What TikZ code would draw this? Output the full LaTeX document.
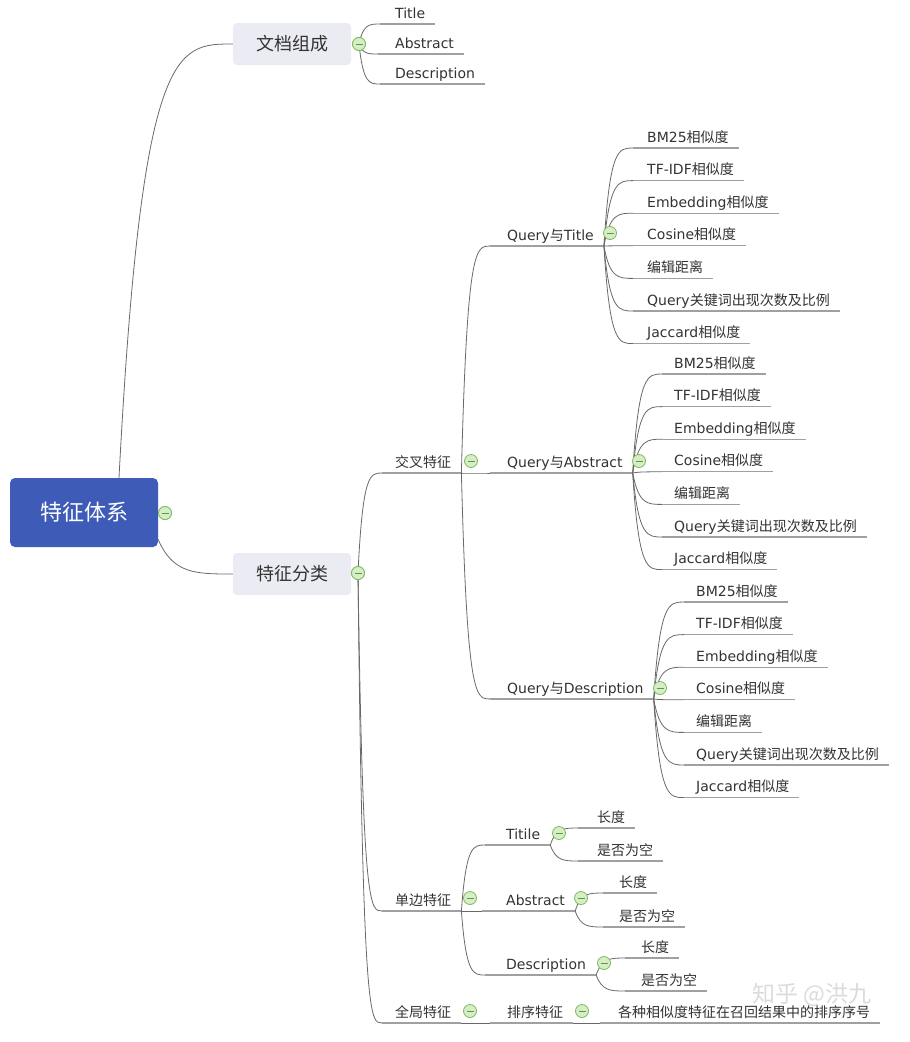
\documentclass[tikz,border=0pt]{standalone}
\usepackage{fontspec}
\setmainfont{DejaVu Sans}
\newfontfamily\cjk{Noto Sans CJK SC}
\usetikzlibrary{calc}
\definecolor{rootblue}{RGB}{62,91,183}
\definecolor{boxgray}{RGB}{235,235,243}
\definecolor{txt}{RGB}{51,51,51}
\definecolor{linec}{RGB}{105,105,105}
\definecolor{ulc}{RGB}{160,160,160}
\definecolor{foldg}{RGB}{125,185,95}
\definecolor{foldf}{RGB}{214,238,198}
\newcommand\xsd{{\cjk 相似度}}
% topic: name, underline start x, underline y, text x, text
\newcommand\topic[5]{%
  \node[lbl, anchor=base west] (#1) at (#4,#3-6) {#5};
  \coordinate (#1-l) at (#2,#3);
  \path (#1.east) ++(10pt,0) coordinate (#1-e);
  \coordinate (#1-r) at (#1-e |- #1-l);
  \draw[uline] (#1-l) -- (#1-r);
}
\newcommand\conn[2]{%
  \draw[link] let \p1=(#1), \p2=(#2) in (#1) .. controls ({\x1+0.2*(\x2-\x1)},\y2) and ({\x1+0.5*(\x2-\x1)},\y2) .. (#2);
}
% similarity set: prefix, parent, start x, text x, first y
\newcommand\simset[5]{%
  \topic{#1a}{#3}{#5}{#4}{BM25\xsd}
  \topic{#1b}{#3}{#5+32.6}{#4}{TF-IDF\xsd}
  \topic{#1c}{#3}{#5+65.2}{#4}{Embedding\xsd}
  \topic{#1d}{#3}{#5+97.8}{#4}{Cosine\xsd}
  \topic{#1e}{#3}{#5+130.4}{#4}{{\cjk 编辑距离}}
  \topic{#1f}{#3}{#5+163}{#4}{Query{\cjk 关键词出现次数及比例}}
  \topic{#1g}{#3}{#5+195.6}{#4}{Jaccard\xsd}
  \foreach \s in {a,b,c,d,e,f,g}{\conn{#2-r}{#1\s-l}}
}
\begin{document}
\begin{tikzpicture}[x=1pt,y=-1pt,
  lbl/.style={font=\fontsize{14}{16}\selectfont, text=txt, inner sep=0pt},
  uline/.style={draw=ulc, line width=1.3pt},
  link/.style={draw=linec, line width=0.8pt},
  fold/.style={circle, draw=foldg, fill=foldf, line width=0.8pt, minimum size=13pt, inner sep=0pt,
    path picture={\draw[foldg!80!black, line width=0.9pt] ([xshift=-3.5pt]path picture bounding box.center) -- ([xshift=3.5pt]path picture bounding box.center);}},
  rootbox/.style={rounded corners=5pt, fill=rootblue, text=white, font=\cjk\fontsize{22}{26}\selectfont, minimum width=148pt, minimum height=69pt, inner sep=0pt},
  mainbox/.style={rounded corners=4pt, fill=boxgray, text=txt, font=\cjk\fontsize{18}{22}\selectfont, minimum width=118pt, minimum height=42pt, inner sep=0pt},
  wm/.style={font=\cjk\fontsize{23}{27}\selectfont, text=gray!40, opacity=0.7}]
\useasboundingbox[fill=white] (0,0) rectangle (910,1042);

% main boxes
\node[rootbox] (root) at (84,512.5) {特征体系};
\node[mainbox] (doc) at (292,44) {文档组成};
\node[mainbox] (cls) at (292,574) {特征分类};
\coordinate (root-t) at ([xshift=35pt]root.north);
\coordinate (root-b) at ([yshift=-27pt]root.east);

% fold markers (positions)
\node[fold] (froot) at (165,513) {};
\node[fold] (fdoc) at (359,44) {};
\node[fold] (fcls) at (358,573) {};

% document composition
\topic{dt}{380}{24}{395}{Title}
\topic{da}{378}{54}{395}{Abstract}
\topic{dd}{380}{84}{395}{Description}

% level 2
\topic{cross}{382}{473}{395}{{\cjk 交叉特征}}
\topic{single}{382}{911}{395}{{\cjk 单边特征}}
\topic{global}{382}{1023}{395}{{\cjk 全局特征}}

% cross features
\topic{qt}{490}{246}{507}{Query{\cjk 与}Title}
\topic{qa}{490}{473}{507}{Query{\cjk 与}Abstract}
\topic{qd}{490}{699}{507}{Query{\cjk 与}Description}
\simset{qt}{qt}{633}{647}{148}
\simset{qa}{qa}{662}{674}{374}
\simset{qd}{qd}{684}{696}{602}

% single-side features
\topic{st}{485}{845}{506}{Titile}
\topic{sa}{482}{911}{506}{Abstract}
\topic{sd}{485}{975}{506}{Description}
\topic{stl}{578}{828}{597}{{\cjk 长度}}
\topic{ste}{578}{861}{597}{{\cjk 是否为空}}
\topic{sal}{603}{893}{619}{{\cjk 长度}}
\topic{sae}{603}{927}{619}{{\cjk 是否为空}}
\topic{sdl}{625}{958}{641}{{\cjk 长度}}
\topic{sde}{625}{991}{641}{{\cjk 是否为空}}

% global features
\topic{rank}{490}{1023}{507}{{\cjk 排序特征}}
\topic{rankl}{600}{1023}{618}{{\cjk 各种相似度特征在召回结果中的排序序号}}

% connectors
\conn{root-t}{doc.west}
\conn{root-b}{cls.west}
\conn{fdoc.center}{dt-l}
\conn{fdoc.center}{da-l}
\conn{fdoc.center}{dd-l}
\conn{fcls.center}{cross-l}
\conn{fcls.center}{single-l}
\conn{fcls.center}{global-l}
\conn{cross-r}{qt-l}
\conn{cross-r}{qa-l}
\conn{cross-r}{qd-l}
\conn{single-r}{st-l}
\conn{single-r}{sa-l}
\conn{single-r}{sd-l}
\conn{st-r}{stl-l}
\conn{st-r}{ste-l}
\conn{sa-r}{sal-l}
\conn{sa-r}{sae-l}
\conn{sd-r}{sdl-l}
\conn{sd-r}{sde-l}
\conn{global-r}{rank-l}
\conn{rank-r}{rankl-l}

% fold markers drawn on top
\node[fold] (froot2) at (froot) {};
\node[fold] (fdoc2) at (fdoc) {};
\node[fold] (fcls2) at (fcls) {};
\node[fold] (fcross) at (471,461) {};
\node[fold] (fqt) at (610,233) {};
\node[fold] (fqa) at (639,461) {};
\node[fold] (fqd) at (660,688) {};
\node[fold] (fsingle) at (470,898) {};
\node[fold] (fst) at (559,833) {};
\node[fold] (fsa) at (581,898) {};
\node[fold] (fsd) at (604,963) {};
\node[fold] (fglobal) at (470,1011) {};
\node[fold] (frank) at (582,1011) {};

% watermark
\node[wm] (wm) at (812,995) {知乎 @洪九};
\end{tikzpicture}
\end{document}
